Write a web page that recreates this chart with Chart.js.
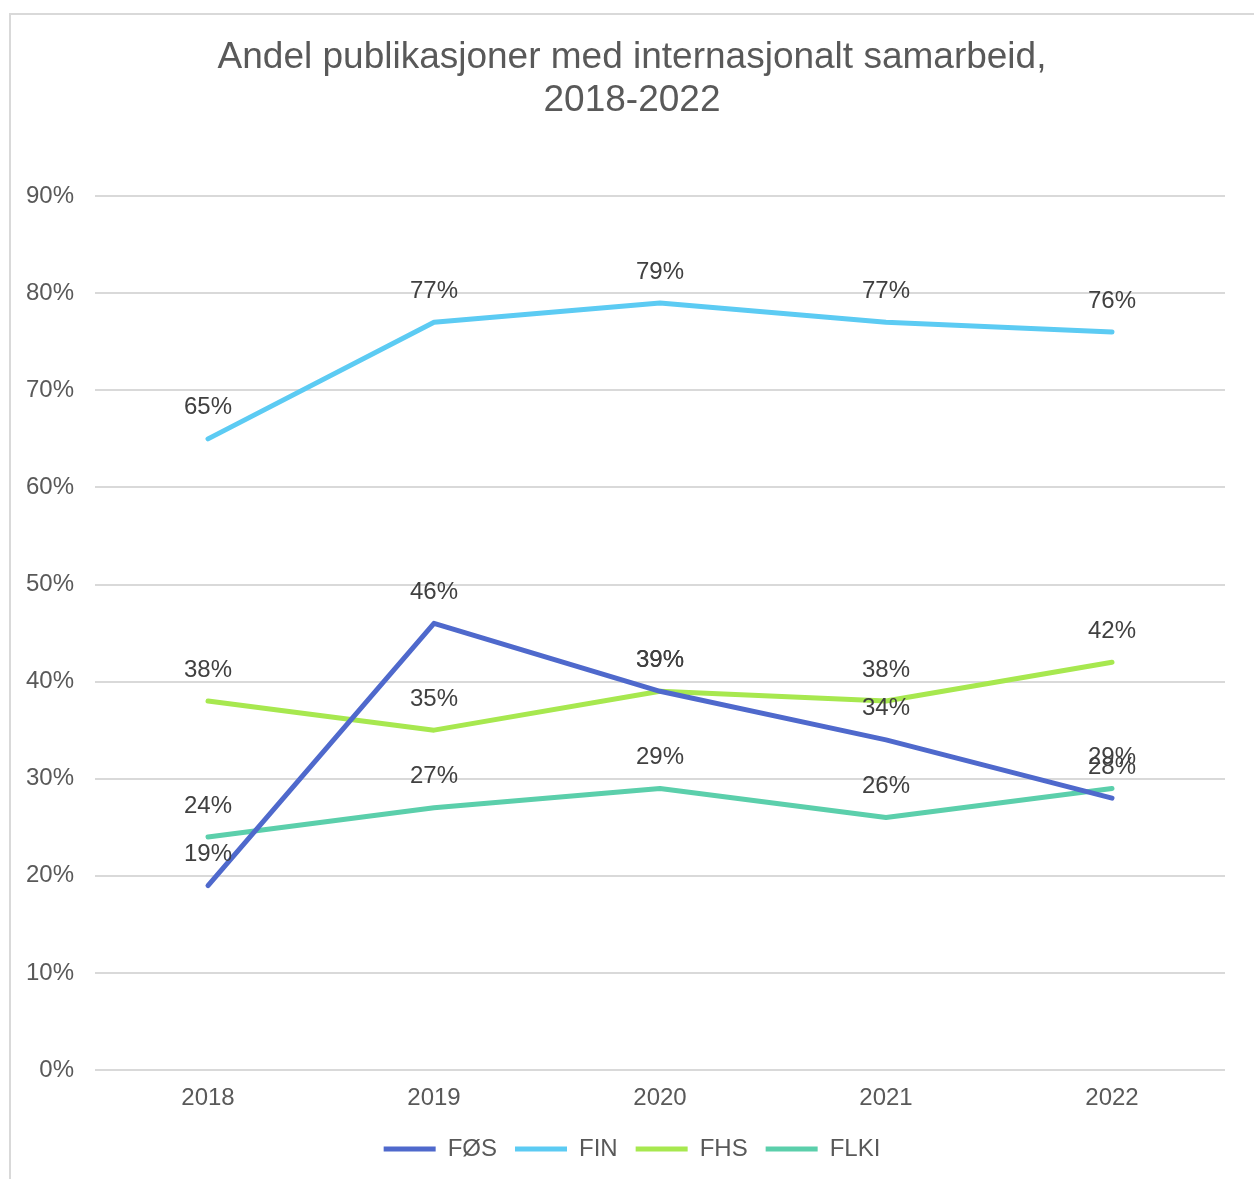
<!DOCTYPE html>
<html>
<head>
<meta charset="utf-8">
<script src="https://cdn.jsdelivr.net/npm/chart.js@4.4.1/dist/chart.umd.min.js"></script>
<style>
  html, body { margin: 0; padding: 0; background: #fff; overflow: hidden; }
  #frame { position: absolute; left: 9px; top: 13px; width: 1300px; height: 1300px; border: 2px solid #d9d9d9; box-sizing: border-box; }
  #wrap { position: absolute; left: 0; top: 0; width: 1254px; height: 1179px; }
</style>
</head>
<body>
<div id="frame"></div>
<div id="wrap"><canvas id="chart"></canvas></div>
<script>
// kategorier og serier (andel i %)
const years = ['2018', '2019', '2020', '2021', '2022'];
const seriesNames = ['FØS', 'FIN', 'FHS', 'FLKI'];
const fos = [19, 46, 39, 34, 28];
const fin = [65, 77, 79, 77, 76];
const fhs = [38, 35, 39, 38, 42];
const flki = [24, 27, 29, 26, 29];
const colors = ['#4f69cc', '#5ccbf3', '#a7e84f', '#5bcfab'];
const yTicks = [0, 10, 20, 30, 40, 50, 60, 70, 80, 90];

const font = 'Liberation Sans, Arial, sans-serif';

// tekst over hvert punkt
const pointLabels = {
  id: 'pointLabels',
  afterDatasetsDraw(chart) {
    const ctx = chart.ctx;
    ctx.save();
    ctx.font = '24px ' + font;
    ctx.fillStyle = '#404040';
    ctx.textAlign = 'center';
    ctx.textBaseline = 'middle';
    chart.data.datasets.forEach((ds, i) => {
      chart.getDatasetMeta(i).data.forEach((pt, j) => {
        ctx.fillText(ds.data[j] + '%', pt.x, pt.y - 31);
      });
    });
    ctx.restore();
  }
};

const lines = [fos, fin, fhs, flki].map((d, i) => ({
  label: seriesNames[i],
  data: d,
  borderColor: colors[i],
  backgroundColor: colors[i],
  borderWidth: 5,
  borderCapStyle: 'round',
  borderJoinStyle: 'round',
  pointRadius: 0,
  tension: 0
}));

new Chart(document.getElementById('chart'), {
  type: 'line',
  data: { labels: years, datasets: lines },
  plugins: [pointLabels],
  options: {
    responsive: true,
    maintainAspectRatio: false,
    animation: false,
    layout: { padding: { left: 10, right: 0, top: 0, bottom: 8 } },
    plugins: {
      title: {
        display: true,
        text: ['Andel publikasjoner med internasjonalt samarbeid,', '2018-2022'],
        color: '#595959',
        font: { family: font, size: 37, weight: 'normal', lineHeight: 1.15 },
        padding: { top: 37, bottom: 74 }
      },
      legend: {
        position: 'bottom',
        labels: {
          usePointStyle: true,
          pointStyle: 'line',
          pointStyleWidth: 52,
          padding: 18,
          color: '#595959',
          font: { family: font, size: 24 }
        }
      },
      tooltip: { enabled: false }
    },
    scales: {
      x: {
        offset: true,
        afterFit(s) { s.height = 49; },
        grid: { display: false },
        border: { display: false },
        ticks: { color: '#595959', font: { family: font, size: 24 }, padding: 6 }
      },
      y: {
        min: 0,
        max: 90,
        afterFit(s) { s.width = 85; },
        afterBuildTicks(s) { s.ticks = yTicks.map(v => ({ value: v })); },
        grid: { color: '#d9d9d9', lineWidth: 2, drawTicks: false },
        border: { display: false },
        ticks: {
          color: '#595959',
          font: { family: font, size: 24 },
          padding: 21,
          callback: v => v + '%'
        }
      },
      // tom akse som holder plass til høyre
      yRight: {
        position: 'right',
        afterFit(s) { s.width = 29; },
        grid: { display: false },
        border: { display: false },
        ticks: { display: false }
      }
    }
  }
});
</script>
</body>
</html>
